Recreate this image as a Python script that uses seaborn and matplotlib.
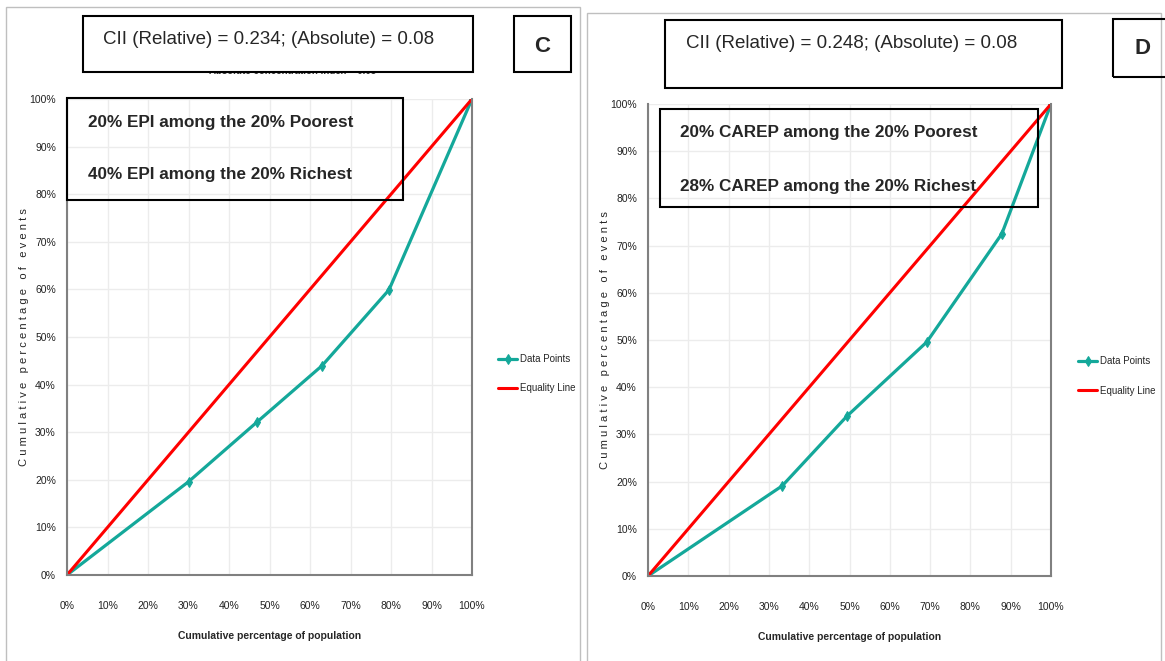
import matplotlib
matplotlib.use("Agg")
import matplotlib.pyplot as plt
import seaborn as sns
import pandas as pd
from matplotlib.patches import Rectangle

# Dados (percentual acumulado)
pop_c = [0, 30, 47, 63, 79.5, 100]
events_c = [0, 19.6, 32.2, 44, 59.9, 100]
pop_d = [0, 33.3, 49.4, 69.2, 87.8, 100]
events_d = [0, 19.1, 33.9, 49.6, 72.5, 100]
equality = [0, 100]
ticks = list(range(0, 101, 10))
tick_labels = [f"{t}%" for t in ticks]

cii_c = "CII (Relative) = 0.234; (Absolute) = 0.08"
cii_d = "CII (Relative) = 0.248; (Absolute) = 0.08"
hidden_c = "Absolute concentration index = 0.08"
notes_c = ["20% EPI among the 20% Poorest", "40% EPI among the 20% Richest"]
notes_d = ["20% CAREP among the 20% Poorest", "28% CAREP among the 20% Richest"]

sns.set_style("white")
plt.rcParams['font.family'] = ['Liberation Sans', 'DejaVu Sans']

W, H = 1165, 661
fig = plt.figure(figsize=(W / 100, H / 100), dpi=100)

TEAL = '#14a89a'
RED = '#ff0000'


def box(x0, y0, x1, y1, lw=1.5, color='black', fill=False):
    # coordenadas em pixels (origem no topo)
    r = Rectangle((x0 / W, 1 - y1 / H), (x1 - x0) / W, (y1 - y0) / H,
                  transform=fig.transFigure, fill=fill, lw=lw, edgecolor=color,
                  facecolor='white', zorder=5)
    fig.add_artist(r)


def txt(x, y, s, **kw):
    fig.text(x / W, 1 - y / H, s, **kw)


def panel(ax_px, pop, events, leg_x, leg_y):
    x0, y0, x1, y1 = ax_px
    ax = fig.add_axes([x0 / W, 1 - y1 / H, (x1 - x0) / W, (y1 - y0) / H])
    df = pd.DataFrame({'x': pop, 'y': events})
    sns.lineplot(data=df, x='x', y='y', ax=ax, color=TEAL, lw=2.3, marker='d',
                 markersize=5, markeredgecolor=TEAL, label='Data Points')
    sns.lineplot(x=equality, y=equality, ax=ax, color=RED, lw=2.2,
                 label='Equality Line')
    ax.set_xlim(0, 100)
    ax.set_ylim(0, 100)
    ax.set_xticks(ticks)
    ax.set_xticklabels(tick_labels, fontsize=7.5, color='#222222')
    ax.set_yticks(ticks)
    ax.set_yticklabels(tick_labels, fontsize=7.5, color='#222222')
    ax.grid(True, color='#ececec', lw=1)
    for s in ['left', 'bottom', 'right']:
        ax.spines[s].set_color('#808080')
        ax.spines[s].set_linewidth(1.5)
    ax.spines['top'].set_visible(False)
    ax.tick_params(axis='x', direction='out', length=5, color='#808080', pad=14)
    ax.tick_params(axis='y', length=0, pad=8)
    ax.set_xlabel('Cumulative percentage of population', fontsize=7.5,
                  fontweight='bold', labelpad=14)
    ax.set_ylabel(' '.join('Cumulative percentage of events'),
                  fontsize=8, labelpad=0)
    ax.legend(loc='center left', bbox_to_anchor=(leg_x, leg_y), frameon=False,
              fontsize=7, handlelength=2.0, labelspacing=2.0, handletextpad=0.25,
              borderpad=0, borderaxespad=0)
    return ax


bold_font = dict(fontweight='bold', va='center', zorder=6)

# painel C
box(6, 7, 580, 700, lw=1, color='#bfbfbf')
panel((67, 99, 472, 575), pop_c, events_c, 1.064, 0.423)
txt(293, 71, hidden_c, fontsize=7, fontweight='bold', ha='center',
    va='center', color='#333333', zorder=4)
box(83, 16, 473, 72, fill=True)
txt(103, 40, cii_c, fontsize=13.5, va='center', zorder=6)
box(514, 16, 571, 72)
txt(542, 46, 'C', fontsize=16, ha='center', **bold_font)
box(67, 98, 403, 200)
txt(88, 122, notes_c[0], fontsize=12.3, **bold_font)
txt(88, 175, notes_c[1], fontsize=12.3, **bold_font)

# painel D
box(587, 13, 1161, 700, lw=1, color='#bfbfbf')
panel((648, 104, 1051, 576), pop_d, events_d, 1.067, 0.424)
box(665, 20, 1062, 88)
txt(686, 43, cii_d, fontsize=13.5, va='center', zorder=6)
box(1113, 19, 1180, 77)
txt(1143, 48, 'D', fontsize=16, ha='center', **bold_font)
box(660, 109, 1038, 207)
txt(680, 133, notes_d[0], fontsize=12.3, **bold_font)
txt(680, 186, notes_d[1], fontsize=12.3, **bold_font)

fig.savefig('out.png', dpi=100, facecolor='white')
